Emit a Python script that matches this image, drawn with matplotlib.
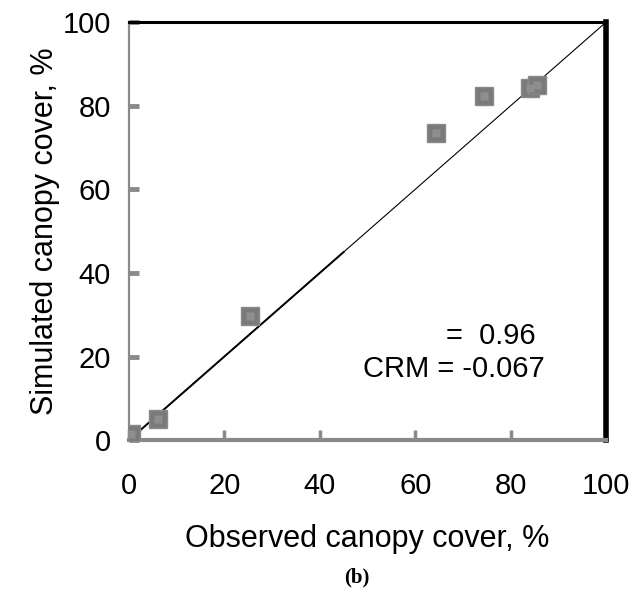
import numpy as np
import matplotlib
matplotlib.use('Agg')
import matplotlib.pyplot as plt

plt.rcParams['font.family'] = ['Liberation Sans', 'DejaVu Sans']

# observed vs simulated canopy cover, %
observed = [0.4, 6.1, 25.4, 64.4, 74.4, 84.1, 85.5]
simulated = [1.4, 5.0, 29.7, 73.4, 82.3, 84.2, 84.9]
ticks = [0, 20, 40, 60, 80, 100]
r2 = 0.96
crm = -0.067

gray = '#8a8a8a'

fig = plt.figure(figsize=(6.32, 5.98), dpi=100)
ax = fig.add_axes([0.204, 0.264, 0.755, 0.699])

# 1:1 line
ax.plot([0, 100], [0, 100], color='black', linewidth=0.8, zorder=2)
ax.plot([0, 45], [0, 45], color='black', linewidth=1.4, zorder=2)

ax.plot(observed, simulated, linestyle='none', marker='s', markersize=12.5,
        markerfacecolor='#7a7a7a', markeredgecolor='#8a8a8a', zorder=3)
ax.plot(observed, simulated, linestyle='none', marker='s', markersize=6,
        markerfacecolor='#8e8e8e', markeredgecolor='none', zorder=4)

ax.set_xlim(0, 100)
ax.set_ylim(0, 100)
ax.set_xticks(ticks)
ax.set_yticks(ticks)

ax.spines['left'].set_color(gray)
ax.spines['left'].set_linewidth(1.6)
ax.spines['bottom'].set_color(gray)
ax.spines['bottom'].set_linewidth(3)
ax.spines['top'].set_color('black')
ax.spines['top'].set_linewidth(2.2)
ax.spines['right'].set_color('black')
ax.spines['right'].set_linewidth(4)

ax.tick_params(axis='x', direction='in', length=7, width=2.5, color=gray,
               pad=23, labelsize=21)
ax.tick_params(axis='y', direction='in', length=7, width=3.5, color=gray,
               pad=13, labelsize=21)

ax.set_xlabel('Observed canopy cover, %', fontsize=22, labelpad=17)
ax.set_ylabel('Simulated canopy cover, %', fontsize=22, labelpad=2)

ax.text(0.665, 0.25, '=  %.2f' % r2, transform=ax.transAxes, fontsize=21,
        ha='left', va='center')
ax.text(0.49, 0.17, 'CRM = %.3f' % crm, transform=ax.transAxes, fontsize=21,
        ha='left', va='center')

fig.text(0.565, 0.035, '(b)', fontsize=15, fontweight='bold',
         family='Liberation Serif', ha='center', va='center')

fig.savefig('out.png', dpi=100)
